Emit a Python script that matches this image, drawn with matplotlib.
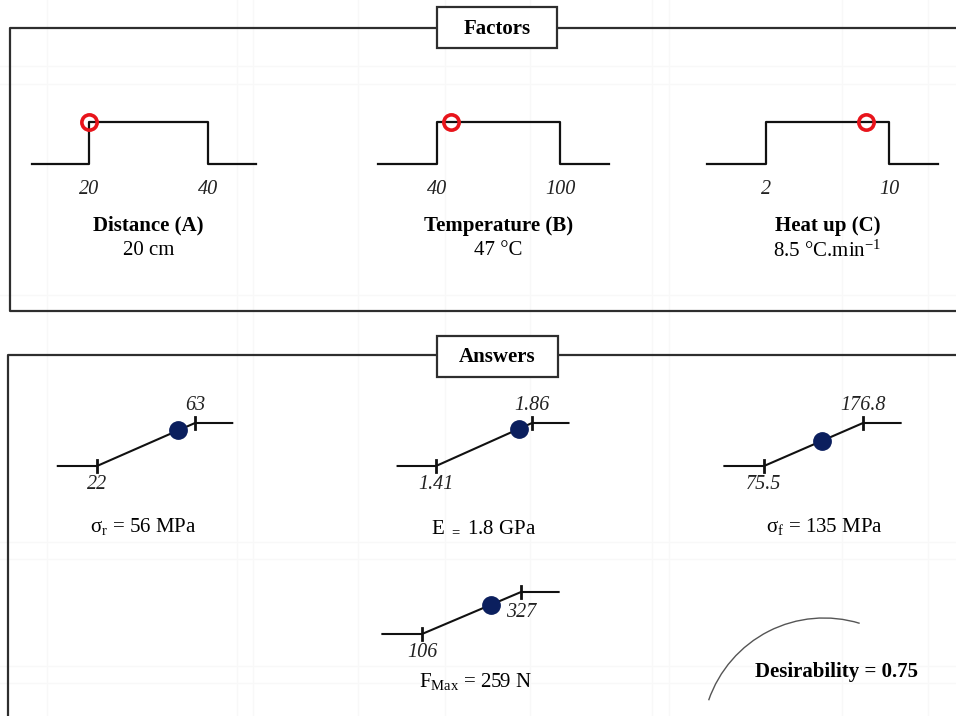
import matplotlib
matplotlib.use('Agg')
import matplotlib.pyplot as plt
from matplotlib.patches import Rectangle, Arc

plt.rcParams['font.family'] = ['Liberation Serif', 'DejaVu Serif']
plt.rcParams['mathtext.fontset'] = 'custom'
plt.rcParams['mathtext.rm'] = 'Liberation Serif'
plt.rcParams['mathtext.it'] = 'Liberation Serif:italic'
plt.rcParams['mathtext.bf'] = 'Liberation Serif:bold'

# factors (settings at the optimum)
factor_names = ['Distance (A)', 'Temperature (B)', 'Heat up (C)']
factor_low = [20, 40, 2]
factor_high = [40, 100, 10]
factor_opt = [20, 47, 8.5]
factor_text = ['20 cm', '47 °C', r'8.5 °C.min$^{-1}$']

# responses (predicted values)
resp_low = [22, 1.41, 75.5, 106]
resp_high = [63, 1.86, 176.8, 327]
resp_pred = [56, 1.8, 135, 259]
resp_text = [r'σ$_\mathrm{r}$ = 56 MPa', r'E $_{=}$ 1.8 GPa',
             r'σ$_\mathrm{f}$ = 135 MPa', r'F$_\mathrm{Max}$ = 259 N']
desirability = 0.75

W, H = 956, 716
fig = plt.figure(figsize=(W / 100, H / 100), dpi=100)
fig.patch.set_facecolor('white')

bg = fig.add_axes([0, 0, 1, 1])
bg.set_xlim(0, W)
bg.set_ylim(H, 0)
bg.axis('off')

# faint table grid behind everything
for gx in [47, 237, 253, 358, 445, 530, 652, 669, 842, 928]:
    bg.axvline(gx, color='#f8f8f8', lw=1, zorder=0)
for gy in [66, 84, 295, 542, 559, 666, 683]:
    bg.axhline(gy, color='#f8f8f8', lw=1, zorder=0)

edge = '#2e2e2e'
# outer frames
bg.plot([970, 10, 10, 970], [28, 28, 311, 311], color=edge, lw=1.6)
bg.plot([970, 8, 8], [355, 355, 730], color=edge, lw=1.6)
for (x0, y0, x1, y1, title) in [(437, 7, 557, 48, 'Factors'),
                                (437, 336, 558, 377, 'Answers')]:
    bg.add_patch(Rectangle((x0, y0), x1 - x0, y1 - y0, facecolor='white',
                           edgecolor=edge, lw=1.6, zorder=3))
    bg.text((x0 + x1) / 2, (y0 + y1) / 2 + 1, title, ha='center', va='center',
            fontsize=15, fontweight='bold', zorder=4)


def px_axes(x0, x1, y_low, y_high):
    # axes whose y=0 sits at pixel row y_low and y=1 at y_high
    ax = fig.add_axes([x0 / W, 1 - y_low / H, (x1 - x0) / W, (y_low - y_high) / H])
    ax.set_ylim(0, 1)
    ax.axis('off')
    return ax


# factor panels: pixel columns of the low / high steps
factor_px = [(89, 208), (437, 560), (766, 889)]
for i in range(3):
    lo, hi = factor_low[i], factor_high[i]
    p0, p1 = factor_px[i]
    s = hi - lo
    ps = p1 - p0
    ax = px_axes(p0 - 0.48 * ps, p1 + 0.40 * ps, 164, 122)
    ax.set_xlim(lo - 0.48 * s, hi + 0.40 * s)
    ax.plot([lo - 0.48 * s, lo, lo, hi, hi, hi + 0.40 * s],
            [0, 0, 1, 1, 0, 0], color='#111111', lw=1.6, clip_on=False)
    ax.plot([factor_opt[i]], [1], 'o', ms=11, mfc='none', mec='#e8141b',
            mew=2.6, clip_on=False)
    for v in (lo, hi):
        ax.text(v, -0.6, f'{v:g}', ha='center', va='center', fontsize=14.5,
                style='italic', color='#222222')
    ax.text((lo + hi) / 2, -1.47, factor_names[i], ha='center', va='center',
            fontsize=15, fontweight='bold')
    ax.text((lo + hi) / 2, -2.07, factor_text[i], ha='center', va='center',
            fontsize=15)

# response panels: (low tick px, high tick px, row of low line, row of high line)
resp_px = [(97, 195, 466, 423), (436, 532, 466, 423),
           (764, 863, 466, 423), (422, 521, 634, 592)]
hi_label_y = [1.4, 1.4, 1.4, 0.52]
name_y = [-1.4, -1.4, -1.4, -1.12]
name_dx = [-0.03, 0.0, 0.11, 0.04]
for i in range(4):
    lo, hi = resp_low[i], resp_high[i]
    p0, p1, yl, yh = resp_px[i]
    s = hi - lo
    ps = p1 - p0
    ax = px_axes(p0 - 0.40 * ps, p1 + 0.38 * ps, yl, yh)
    ax.set_xlim(lo - 0.40 * s, hi + 0.38 * s)
    ax.plot([lo - 0.40 * s, lo, hi, hi + 0.38 * s], [0, 0, 1, 1],
            color='#111111', lw=1.5, clip_on=False)
    for v, yy in ((lo, 0), (hi, 1)):
        ax.plot([v, v], [yy - 0.14, yy + 0.14], color='#111111', lw=2,
                clip_on=False)
    ax.plot([resp_pred[i]], [(resp_pred[i] - lo) / s], 'o', ms=12.5,
            color='#0b1f5e', clip_on=False, zorder=5)
    ax.text(hi, hi_label_y[i], f'{hi:g}', ha='center', va='center',
            fontsize=14.5, style='italic', color='#222222')
    ax.text(lo, -0.44, f'{lo:g}', ha='center', va='center', fontsize=14.5,
            style='italic', color='#222222')
    ax.text(lo + (0.5 + name_dx[i]) * s, name_y[i], resp_text[i],
            ha='center', va='center', fontsize=15)

# desirability
bg.add_patch(Arc((824, 740), 244, 244, theta1=199, theta2=287,
                 color='#555555', lw=1))
bg.text(837, 672, f'Desirability = {desirability}', ha='center',
        va='center', fontsize=15, fontweight='bold')

fig.savefig('out.png', dpi=100)
